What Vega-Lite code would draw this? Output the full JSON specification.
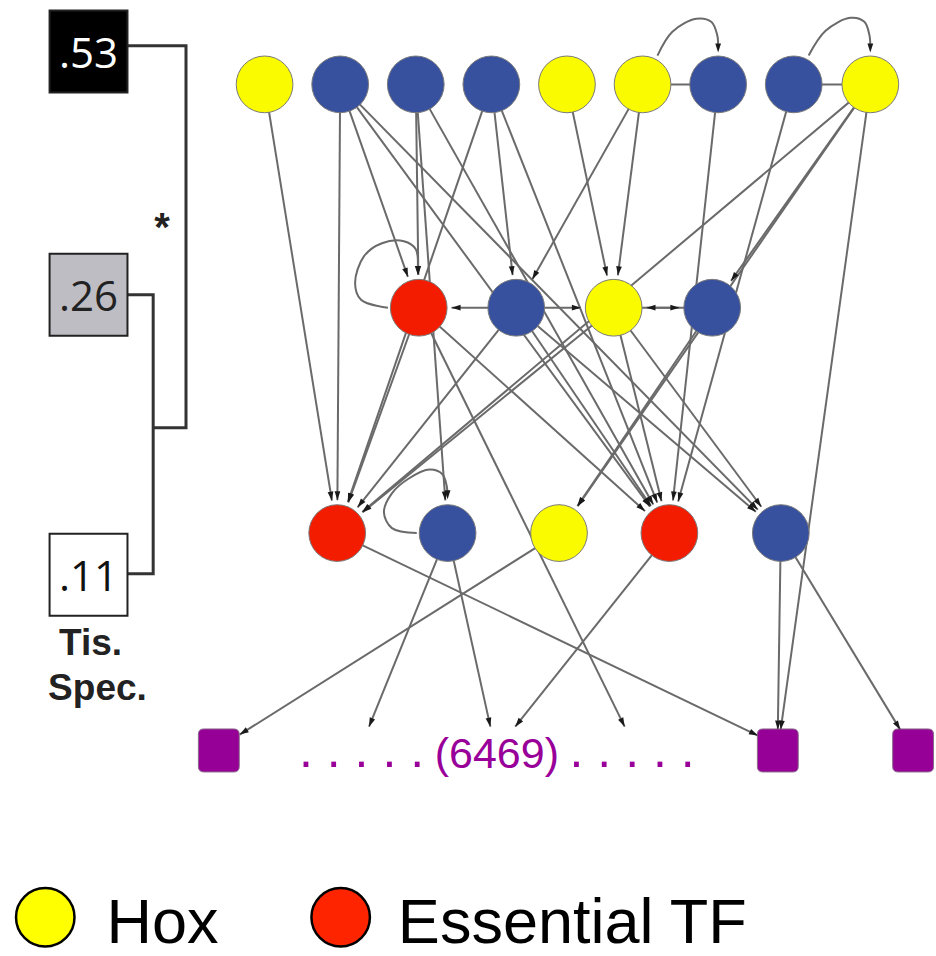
{
  "$schema": "https://vega.github.io/schema/vega-lite/v6.json",
  "width": 936,
  "height": 956,
  "autosize": {"type": "fit", "contains": "padding"},
  "padding": 0,
  "background": "white",
  "config": {"view": {"stroke": null}},
  "datasets": {
    "dendro": [
      {"g": "a", "o": 1, "x": 128, "y": 46},
      {"g": "a", "o": 2, "x": 187, "y": 46},
      {"g": "a", "o": 3, "x": 187, "y": 431},
      {"g": "a", "o": 4, "x": 154, "y": 431},
      {"g": "b", "o": 1, "x": 128, "y": 297},
      {"g": "b", "o": 2, "x": 154, "y": 297},
      {"g": "b", "o": 3, "x": 154, "y": 578},
      {"g": "b", "o": 4, "x": 128, "y": 578}
    ],
    "boxes": [
      {"label": ".53", "x": 89, "y": 52, "level": "high"},
      {"label": ".26", "x": 89, "y": 297, "level": "mid"},
      {"label": ".11", "x": 89, "y": 579, "level": "low"}
    ],
    "star": [
      {"label": "*", "x": 163, "y": 243}
    ],
    "sidetext": [
      {"label": "Tis.", "x": 91, "y": 660},
      {"label": "Spec.", "x": 98, "y": 705}
    ],
    "nodes": [
      {"id": "T1", "x": 266, "y": 85, "type": "Hox"},
      {"id": "T2", "x": 342, "y": 85, "type": "TF"},
      {"id": "T3", "x": 418, "y": 85, "type": "TF"},
      {"id": "T4", "x": 494, "y": 85, "type": "TF"},
      {"id": "T5", "x": 570, "y": 85, "type": "Hox"},
      {"id": "T6", "x": 646, "y": 85, "type": "Hox"},
      {"id": "T7", "x": 722, "y": 85, "type": "TF"},
      {"id": "T8", "x": 798, "y": 85, "type": "TF"},
      {"id": "T9", "x": 875, "y": 85, "type": "Hox"},
      {"id": "M1", "x": 421, "y": 310, "type": "Essential TF"},
      {"id": "M2", "x": 519, "y": 310, "type": "TF"},
      {"id": "M3", "x": 617, "y": 310, "type": "Hox"},
      {"id": "M4", "x": 716, "y": 310, "type": "TF"},
      {"id": "L1", "x": 339, "y": 537, "type": "Essential TF"},
      {"id": "L2", "x": 450, "y": 537, "type": "TF"},
      {"id": "L3", "x": 562, "y": 537, "type": "Hox"},
      {"id": "L4", "x": 673, "y": 537, "type": "Essential TF"},
      {"id": "L5", "x": 785, "y": 537, "type": "TF"}
    ],
    "targets": [
      {"id": "P1", "x": 220, "y": 756},
      {"id": "P2", "x": 782, "y": 756},
      {"id": "P3", "x": 918, "y": 756}
    ],
    "links": [
      {"x": 646, "y": 85, "x2": 722, "y2": 85},
      {"x": 798, "y": 85, "x2": 875, "y2": 85}
    ],
    "edges": [
      {"s": "T1", "t": "L1", "x": 266, "y": 85, "x2": 333.7, "y2": 504.4},
      {"s": "T2", "t": "L1", "x": 342, "y": 85, "x2": 339.2, "y2": 504},
      {"s": "T2", "t": "M1", "x": 342, "y": 85, "x2": 410.1, "y2": 278.9},
      {"s": "T2", "t": "L4", "x": 342, "y": 85, "x2": 653.5, "y2": 510.4},
      {"s": "T2", "t": "L5", "x": 342, "y": 85, "x2": 761.9, "y2": 513.4},
      {"s": "T3", "t": "M1", "x": 418, "y": 85, "x2": 420.6, "y2": 277},
      {"s": "T3", "t": "L2", "x": 418, "y": 85, "x2": 447.7, "y2": 504.1},
      {"s": "T3", "t": "L4", "x": 418, "y": 85, "x2": 656.8, "y2": 508.3},
      {"s": "T4", "t": "M2", "x": 494, "y": 85, "x2": 515.4, "y2": 277.2},
      {"s": "T4", "t": "L1", "x": 494, "y": 85, "x2": 349.7, "y2": 505.8},
      {"s": "T4", "t": "L4", "x": 494, "y": 85, "x2": 660.8, "y2": 506.3},
      {"s": "T5", "t": "M3", "x": 570, "y": 85, "x2": 610.3, "y2": 277.7},
      {"s": "T6", "t": "M3", "x": 646, "y": 85, "x2": 621.2, "y2": 277.3},
      {"s": "T6", "t": "M2", "x": 646, "y": 85, "x2": 535.2, "y2": 281.3},
      {"s": "T7", "t": "L4", "x": 722, "y": 85, "x2": 676.6, "y2": 504.2},
      {"s": "T8", "t": "L4", "x": 798, "y": 85, "x2": 681.8, "y2": 505.2},
      {"s": "T9", "t": "L1", "x": 875, "y": 85, "x2": 364.2, "y2": 515.7},
      {"s": "T9", "t": "M4", "x": 875, "y": 85, "x2": 735, "y2": 283},
      {"s": "T9", "t": "L3", "x": 875, "y": 85, "x2": 580.8, "y2": 509.9},
      {"s": "T9", "t": "P2", "x": 875, "y": 85, "x2": 784.9, "y2": 735},
      {"s": "M2", "t": "M1", "x": 519, "y": 310, "x2": 454, "y2": 310},
      {"s": "M2", "t": "M3", "x": 519, "y": 310, "x2": 584, "y2": 310},
      {"s": "M3", "t": "M4", "x": 617, "y": 310, "x2": 683, "y2": 310},
      {"s": "M4", "t": "M3", "x": 716, "y": 310, "x2": 650, "y2": 310},
      {"s": "M1", "t": "L1", "x": 421, "y": 310, "x2": 350.2, "y2": 506},
      {"s": "M1", "t": "L4", "x": 421, "y": 310, "x2": 648.5, "y2": 514.9},
      {"s": "M1", "t": "D4", "x": 421, "y": 310, "x2": 628, "y2": 732},
      {"s": "M2", "t": "L1", "x": 519, "y": 310, "x2": 359.5, "y2": 511.1},
      {"s": "M2", "t": "L4", "x": 519, "y": 310, "x2": 654.5, "y2": 509.7},
      {"s": "M2", "t": "L5", "x": 519, "y": 310, "x2": 759.9, "y2": 515.6},
      {"s": "M3", "t": "L1", "x": 617, "y": 310, "x2": 364.6, "y2": 516.1},
      {"s": "M3", "t": "L4", "x": 617, "y": 310, "x2": 665.1, "y2": 505},
      {"s": "M3", "t": "L5", "x": 617, "y": 310, "x2": 765.4, "y2": 510.5},
      {"s": "M4", "t": "L3", "x": 716, "y": 310, "x2": 580.5, "y2": 509.7},
      {"s": "L1", "t": "P2", "x": 339, "y": 537, "x2": 762, "y2": 741},
      {"s": "L2", "t": "D1", "x": 450, "y": 537, "x2": 371, "y2": 732},
      {"s": "L2", "t": "D2", "x": 450, "y": 537, "x2": 493, "y2": 732},
      {"s": "L3", "t": "P1", "x": 562, "y": 537, "x2": 241, "y2": 740},
      {"s": "L4", "t": "D3", "x": 673, "y": 537, "x2": 518, "y2": 732},
      {"s": "L5", "t": "P2", "x": 785, "y": 537, "x2": 782, "y2": 735},
      {"s": "L5", "t": "P3", "x": 785, "y": 537, "x2": 905, "y2": 735}
    ],
    "curves": [
      {"c": "a", "o": 1, "x": 661, "y": 56},
      {"c": "a", "o": 2, "x": 676, "y": 32},
      {"c": "a", "o": 3, "x": 700, "y": 19},
      {"c": "a", "o": 4, "x": 715, "y": 22},
      {"c": "a", "o": 5, "x": 721, "y": 35},
      {"c": "a", "o": 6, "x": 722, "y": 46},
      {"c": "b", "o": 1, "x": 813, "y": 56},
      {"c": "b", "o": 2, "x": 830, "y": 31},
      {"c": "b", "o": 3, "x": 855, "y": 18},
      {"c": "b", "o": 4, "x": 869, "y": 22},
      {"c": "b", "o": 5, "x": 874, "y": 35},
      {"c": "b", "o": 6, "x": 875, "y": 46},
      {"c": "m", "o": 1, "x": 390, "y": 310},
      {"c": "m", "o": 2, "x": 363, "y": 302},
      {"c": "m", "o": 3, "x": 357, "y": 285},
      {"c": "m", "o": 4, "x": 366, "y": 258},
      {"c": "m", "o": 5, "x": 384, "y": 245},
      {"c": "m", "o": 6, "x": 406, "y": 243},
      {"c": "m", "o": 7, "x": 418, "y": 251},
      {"c": "m", "o": 8, "x": 420, "y": 270},
      {"c": "l", "o": 1, "x": 419, "y": 537},
      {"c": "l", "o": 2, "x": 394, "y": 532},
      {"c": "l", "o": 3, "x": 386, "y": 516},
      {"c": "l", "o": 4, "x": 394, "y": 497},
      {"c": "l", "o": 5, "x": 411, "y": 482},
      {"c": "l", "o": 6, "x": 432, "y": 473},
      {"c": "l", "o": 7, "x": 445, "y": 478},
      {"c": "l", "o": 8, "x": 450, "y": 496}
    ],
    "curvetips": [
      {"c": "a", "x": 722, "y": 53},
      {"c": "b", "x": 875, "y": 53},
      {"c": "m", "x": 420, "y": 277},
      {"c": "l", "x": 450, "y": 503}
    ],
    "dots": [
      {"label": ". . . . .", "x": 363.5, "y": 773},
      {"label": ". . . . .", "x": 635.5, "y": 773}
    ],
    "count": [
      {"label": "(6469)", "x": 499.5, "y": 774}
    ],
    "legend": [
      {"type": "Hox", "x": 45.5, "y": 924},
      {"type": "Essential TF", "x": 342.5, "y": 924}
    ],
    "legendtext": [
      {"label": "Hox", "x": 107, "y": 950},
      {"label": "Essential TF", "x": 400, "y": 950}
    ]
  },
  "layer": [
    {
      "data": {"name": "dendro"},
      "mark": {"type": "line", "stroke": "#333333", "strokeWidth": 3},
      "encoding": {
        "x": {"field": "x", "type": "quantitative", "scale": {"domain": [0, 936], "nice": false, "zero": false}, "axis": null},
        "y": {"field": "y", "type": "quantitative", "scale": {"domain": [0, 956], "nice": false, "zero": false, "reverse": true}, "axis": null},
        "detail": {"field": "g"},
        "order": {"field": "o", "type": "quantitative"}
      }
    },
    {
      "data": {"name": "boxes"},
      "mark": {"type": "point", "filled": true, "shape": "M-0.95,-1H0.95V1H-0.95Z", "size": 6724, "stroke": "#222222", "strokeWidth": 2, "opacity": 1},
      "encoding": {
        "x": {"field": "x", "type": "quantitative", "axis": null},
        "y": {"field": "y", "type": "quantitative", "axis": null},
        "fill": {"field": "level", "type": "nominal", "scale": {"domain": ["high", "mid", "low"], "range": ["#000000", "#bdbdc3", "#ffffff"]}, "legend": null}
      }
    },
    {
      "data": {"name": "boxes"},
      "mark": {"type": "text", "font": "Open Sans", "fontSize": 42, "align": "center", "baseline": "alphabetic", "dy": 16},
      "encoding": {
        "x": {"field": "x", "type": "quantitative", "axis": null},
        "y": {"field": "y", "type": "quantitative", "axis": null},
        "text": {"field": "label"},
        "color": {"field": "level", "type": "nominal", "scale": {"domain": ["high", "mid", "low"], "range": ["#ffffff", "#222222", "#111111"]}, "legend": null}
      }
    },
    {
      "data": {"name": "star"},
      "mark": {"type": "text", "font": "Liberation Sans", "fontSize": 40, "fontWeight": "bold", "align": "center", "baseline": "alphabetic", "fill": "#222222"},
      "encoding": {
        "x": {"field": "x", "type": "quantitative", "axis": null},
        "y": {"field": "y", "type": "quantitative", "axis": null},
        "text": {"field": "label"}
      }
    },
    {
      "data": {"name": "sidetext"},
      "mark": {"type": "text", "font": "Liberation Sans", "fontSize": 37, "fontWeight": "bold", "align": "center", "baseline": "alphabetic", "fill": "#222222"},
      "encoding": {
        "x": {"field": "x", "type": "quantitative", "axis": null},
        "y": {"field": "y", "type": "quantitative", "axis": null},
        "text": {"field": "label"}
      }
    },
    {
      "data": {"name": "links"},
      "mark": {"type": "rule", "stroke": "#6a6a6a", "strokeWidth": 2},
      "encoding": {
        "x": {"field": "x", "type": "quantitative", "axis": null},
        "y": {"field": "y", "type": "quantitative", "axis": null},
        "x2": {"field": "x2"},
        "y2": {"field": "y2"}
      }
    },
    {
      "data": {"name": "edges"},
      "mark": {"type": "rule", "stroke": "#6a6a6a", "strokeWidth": 2},
      "encoding": {
        "x": {"field": "x", "type": "quantitative", "axis": null},
        "y": {"field": "y", "type": "quantitative", "axis": null},
        "x2": {"field": "x2"},
        "y2": {"field": "y2"}
      }
    },
    {
      "data": {"name": "curves"},
      "mark": {"type": "line", "stroke": "#6a6a6a", "strokeWidth": 2, "interpolate": "catmull-rom"},
      "encoding": {
        "x": {"field": "x", "type": "quantitative", "axis": null},
        "y": {"field": "y", "type": "quantitative", "axis": null},
        "detail": {"field": "c"},
        "order": {"field": "o", "type": "quantitative"}
      }
    },
    {
      "data": {"name": "nodes"},
      "mark": {"type": "point", "shape": "circle", "filled": true, "size": 3217, "stroke": "#7a7a7a", "strokeWidth": 1, "opacity": 1},
      "encoding": {
        "x": {"field": "x", "type": "quantitative", "axis": null},
        "y": {"field": "y", "type": "quantitative", "axis": null},
        "fill": {"field": "type", "type": "nominal", "scale": {"domain": ["Hox", "TF", "Essential TF"], "range": ["#fbfb00", "#38519f", "#f41c00"]}, "legend": null}
      }
    },
    {
      "data": {"name": "targets"},
      "mark": {"type": "point", "filled": true, "fill": "#960096", "opacity": 1, "stroke": "#8a6a8a", "strokeWidth": 1, "size": 1849, "shape": "M-0.7,-1L0.7,-1Q0.95,-1 0.95,-0.75L0.95,0.75Q0.95,1 0.7,1L-0.7,1Q-0.95,1 -0.95,0.75L-0.95,-0.75Q-0.95,-1 -0.7,-1Z"},
      "encoding": {
        "x": {"field": "x", "type": "quantitative", "axis": null},
        "y": {"field": "y", "type": "quantitative", "axis": null}
      }
    },
    {
      "data": {"name": "edges"},
      "transform": [{"calculate": "atan2(-(datum.x2 - datum.x), datum.y2 - datum.y) * 180 / PI", "as": "ang"}],
      "mark": {"type": "point", "filled": true, "fill": "#1a1a1a", "opacity": 1, "strokeWidth": 0, "size": 324, "shape": "M0,0L-0.32,-1L0.32,-1Z"},
      "encoding": {
        "x": {"field": "x2", "type": "quantitative", "axis": null},
        "y": {"field": "y2", "type": "quantitative", "axis": null},
        "angle": {"field": "ang", "type": "quantitative", "scale": null}
      }
    },
    {
      "data": {"name": "curvetips"},
      "mark": {"type": "point", "filled": true, "fill": "#1a1a1a", "opacity": 1, "strokeWidth": 0, "size": 324, "shape": "M0,0L-0.32,-1L0.32,-1Z"},
      "encoding": {
        "x": {"field": "x", "type": "quantitative", "axis": null},
        "y": {"field": "y", "type": "quantitative", "axis": null}
      }
    },
    {
      "data": {"name": "dots"},
      "mark": {"type": "text", "font": "Liberation Sans", "fontSize": 50, "align": "center", "baseline": "alphabetic", "fill": "#990099"},
      "encoding": {
        "x": {"field": "x", "type": "quantitative", "axis": null},
        "y": {"field": "y", "type": "quantitative", "axis": null},
        "text": {"field": "label"}
      }
    },
    {
      "data": {"name": "count"},
      "mark": {"type": "text", "font": "Liberation Sans", "fontSize": 43, "align": "center", "baseline": "alphabetic", "fill": "#990099"},
      "encoding": {
        "x": {"field": "x", "type": "quantitative", "axis": null},
        "y": {"field": "y", "type": "quantitative", "axis": null},
        "text": {"field": "label"}
      }
    },
    {
      "data": {"name": "legend"},
      "mark": {"type": "point", "shape": "circle", "filled": true, "size": 3421, "stroke": "#000000", "strokeWidth": 2.5, "opacity": 1},
      "encoding": {
        "x": {"field": "x", "type": "quantitative", "axis": null},
        "y": {"field": "y", "type": "quantitative", "axis": null},
        "fill": {"field": "type", "type": "nominal", "scale": {"domain": ["Hox", "Essential TF"], "range": ["#ffff00", "#ff2400"]}, "legend": null}
      }
    },
    {
      "data": {"name": "legendtext"},
      "mark": {"type": "text", "font": "Liberation Sans", "fontSize": 63, "align": "left", "baseline": "alphabetic", "fill": "#000000"},
      "encoding": {
        "x": {"field": "x", "type": "quantitative", "axis": null},
        "y": {"field": "y", "type": "quantitative", "axis": null},
        "text": {"field": "label"}
      }
    }
  ],
  "resolve": {"scale": {"fill": "independent", "color": "independent"}}
}
